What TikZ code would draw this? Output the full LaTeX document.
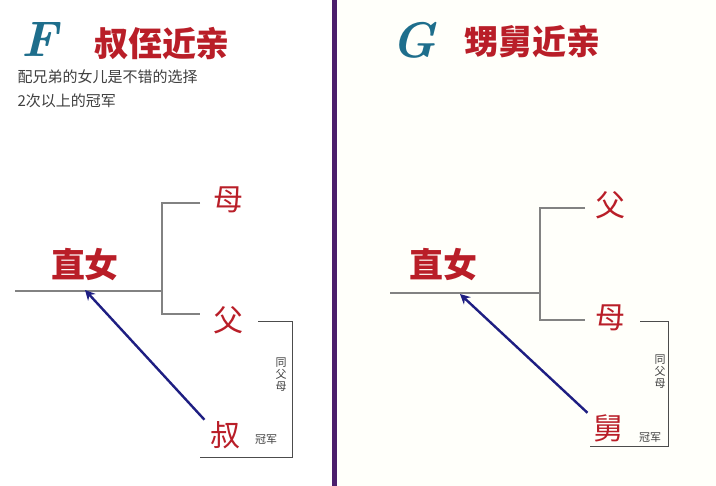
\documentclass[tikz,border=0pt]{standalone}
\usepackage{fontspec}
\usetikzlibrary{arrows.meta}
\newfontfamily\cjk{Noto Sans CJK SC}
\newfontfamily\cjkb{Noto Sans CJK SC Bold}
\definecolor{zred}{RGB}{185,30,40}
\definecolor{zteal}{RGB}{30,110,140}
\definecolor{zblue}{RGB}{30,30,130}
\definecolor{zgray}{RGB}{130,130,130}
\definecolor{zpurple}{RGB}{75,30,110}
\begin{document}
\begin{tikzpicture}[x=1pt,y=-1pt,
  big/.style={font=\cjk\bfseries\fontsize{34}{34}\selectfont, text=zred},
  kin/.style={font=\cjk\fontsize{30}{30}\selectfont, text=zred},
  small/.style={font=\cjk\fontsize{11}{12}\selectfont, text=black!75},
  sub/.style={font=\cjk\fontsize{15}{16}\selectfont, text=black!75},
  letter/.style={font=\fontsize{50}{50}\selectfont\bfseries\itshape, text=zteal},
  tree/.style={draw=zgray, line width=2.5pt},
  brk/.style={draw=black!70, line width=1pt},
  arr/.style={draw=zblue, line width=2.4pt, -{Stealth[length=10pt,width=10pt]}}]
\useasboundingbox (0,0) rectangle (716,486);
\fill[white] (0,0) rectangle (716,486);
\fill[yellow!2] (340,0) rectangle (716,486);
\fill[zpurple] (332,0) rectangle (337,486);
% left
\node[letter] (F) at (40,40) {F};
\node[big] (t1) at (162,44) {叔侄近亲};
\node[sub, anchor=west] (s1) at (14,77) {配兄弟的女儿是不错的选择};
\node[sub, anchor=west] (s2) at (14,101) {2次以上的冠军};
\coordinate (la) at (15,291); \coordinate (lj) at (162,291);
\draw[tree] (la) -- (lj);
\draw[tree] (200,203) -| (162,314) -- (200,314);
\node[big] (lz) at (85,265) {直女};
\node[kin] (lm) at (228,200) {母};
\node[kin] (lf) at (228,320) {父};
\node[kin] (ls) at (225,435) {叔};
\node[small] (lg) at (266,440) {冠军};
\node[small, align=center, inner sep=0pt] (lt) at (281,375) {同\\父\\母};
\draw[brk] (258,322) -| (292,458) -- (200,458);
\coordinate (lzt) at (85,290);
\draw[arr] (ls.north west) ++(-2,2) -- (lzt);
% right
\node[letter] (G) at (414,40) {G};
\node[big] (t2) at (532,42) {甥舅近亲};
\draw[tree] (390,293) -- (540,293);
\draw[tree] (585,208) -| (540,320) -- (585,320);
\node[big] (rz) at (443,265) {直女};
\node[kin] (rf) at (610,205) {父};
\node[kin] (rm) at (610,318) {母};
\node[kin] (rs) at (608,428) {舅};
\node[small] (rg) at (650,438) {冠军};
\node[small, align=center, inner sep=0pt] (rt) at (660,372) {同\\父\\母};
\draw[brk] (640,322) -| (668,447) -- (590,447);
\coordinate (rzt) at (460,294);
\draw[arr] (rs.north west) ++(-2,2) -- (rzt);
\end{tikzpicture}
\end{document}
